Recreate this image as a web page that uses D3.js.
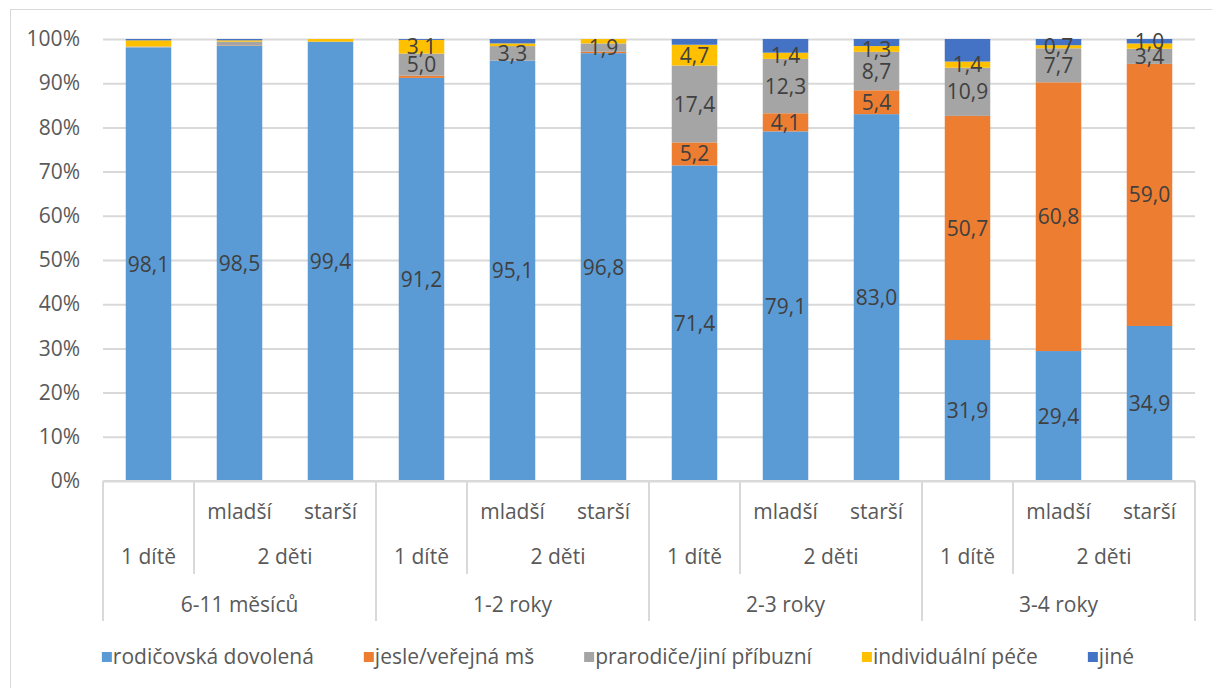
<!DOCTYPE html>
<html><head><meta charset="utf-8">
<script src="https://cdn.jsdelivr.net/npm/d3@7/dist/d3.min.js"></script>
<style>
html,body{margin:0;padding:0;background:#fff;}
svg{display:block;font-family:"Open Sans",sans-serif;}
</style></head>
<body><svg id="chart" width="1212" height="688"></svg>
<script>
// ---- data ----
const ageGroups = ["6-11 měsíců","1-2 roky","2-3 roky","3-4 roky"];
const childCounts = ["1 dítě","2 děti"];
const childOrder = ["", "mladší", "starší"];
const seriesNames = ["rodičovská dovolená","jesle/veřejná mš","prarodiče/jiní příbuzní","individuální péče","jiné"];
const rodicovska   = [98.1,98.5,99.4,91.2,95.1,96.8,71.4,79.1,83.0,31.9,29.4,34.9];
const jesle        = [0,0.1,0,0.5,0,0.3,5.2,4.1,5.4,50.7,60.8,59.0];
const prarodice    = [0.2,0.8,0,5.0,3.3,1.9,17.4,12.3,8.7,10.9,7.7,3.4];
const individualni = [1.4,0.3,0.6,3.1,0.6,1.0,4.7,1.4,1.3,1.4,0.7,1.2];
const jine         = [0.3,0.3,0,0.2,1.0,0,1.3,3.1,1.6,5.1,1.4,1.0];
// which bars show a data label, per series
const labelsShown = [
  [0,1,2,3,4,5,6,7,8,9,10,11],
  [6,7,8,9,10,11],
  [3,4,5,6,7,8,9,10,11],
  [3,6,7,8,9,10],
  [11]
];
const colors = ["#5B9BD5","#ED7D31","#A5A5A5","#FFC000","#4472C4"];
const yTicks = [0,0.1,0.2,0.3,0.4,0.5,0.6,0.7,0.8,0.9,1.0];

// ---- build ----
const FS = "21px";
const seriesVals = [rodicovska, jesle, prarodice, individualni, jine];
const bars = d3.range(12).map(i => {
  const o = {i};
  seriesNames.forEach((n,k)=> o[n] = seriesVals[k][i]);
  return o;
});
const stack = d3.stack().keys(seriesNames).offset(d3.stackOffsetExpand);
const stacked = stack(bars);

const svg = d3.select("#chart");
const L = 103, R = 1195, T = 39, B = 481;
const slot = d3.scaleBand().domain(d3.range(12)).range([L,R]).padding(0);
const y = d3.scaleLinear().domain([0,1]).range([B,T]);

// chart border
svg.append("rect").attr("x",10.5).attr("y",9.5).attr("width",1240).attr("height",700)
  .attr("fill","none").attr("stroke","#D9D9D9").attr("stroke-width",1);

// gridlines + y axis
const yAxis = d3.axisLeft(y).tickValues(yTicks).tickFormat(d3.format(".0%")).tickSize(-(R-L)).tickPadding(23);
const gy = svg.append("g").attr("transform",`translate(${L},0)`).call(yAxis);
gy.select(".domain").remove();
gy.selectAll(".tick line").attr("stroke","#D9D9D9").attr("stroke-width",2);
gy.selectAll(".tick text").attr("fill","#595959").style("font-size",FS).style("font-family","Open Sans");

// bars
const bw = slot.bandwidth()*0.5;
svg.append("g").selectAll("g").data(stacked).join("g")
  .attr("fill",(d,k)=>colors[k])
  .selectAll("rect").data(d=>d).join("rect")
  .attr("x",(d,i)=>slot(i)+slot.bandwidth()*0.25)
  .attr("width",bw)
  .attr("y",d=>y(d[1]))
  .attr("height",d=>Math.max(0,y(d[0])-y(d[1])));

// data labels
const fmt = v => d3.format(".1f")(v).replace(".",",");
const lg = svg.append("g");
stacked.forEach((s,k)=>{
  labelsShown[k].forEach(i=>{
    const d = s[i];
    lg.append("text")
      .attr("x",slot(i)+slot.bandwidth()/2)
      .attr("y",(y(d[0])+y(d[1]))/2)
      .attr("dy","0.36em")
      .attr("text-anchor","middle")
      .attr("fill","#404040")
      .style("font-size",FS)
      .text(fmt(seriesVals[k][i]));
  });
});

// x axis line
svg.append("line").attr("x1",L).attr("x2",R).attr("y1",B).attr("y2",B)
  .attr("stroke","#D9D9D9").attr("stroke-width",2);

// multi-level category axis
const ax = svg.append("g").attr("fill","#595959").style("font-size",FS);
const edge = i => i>=12 ? R : slot(i);
[0,3,6,9,12].forEach(i=>{
  svg.append("line").attr("x1",edge(i)).attr("x2",edge(i)).attr("y1",B).attr("y2",621)
    .attr("stroke","#D9D9D9").attr("stroke-width",2);
});
[1,4,7,10].forEach(i=>{
  svg.append("line").attr("x1",edge(i)).attr("x2",edge(i)).attr("y1",B).attr("y2",574)
    .attr("stroke","#D9D9D9").attr("stroke-width",2);
});
d3.range(12).forEach(i=>{
  const t = childOrder[i%3];
  if(t) ax.append("text").attr("x",slot(i)+slot.bandwidth()/2).attr("y",519)
    .attr("text-anchor","middle").text(t);
});
ageGroups.forEach((g,gi)=>{
  const s = gi*3;
  ax.append("text").attr("x",slot(s)+slot.bandwidth()/2).attr("y",564)
    .attr("text-anchor","middle").text(childCounts[0]);
  ax.append("text").attr("x",(edge(s+1)+edge(s+3))/2).attr("y",564)
    .attr("text-anchor","middle").text(childCounts[1]);
  ax.append("text").attr("x",(edge(s)+edge(s+3))/2).attr("y",612)
    .attr("text-anchor","middle").text(g);
});

// legend
const leg = svg.append("g").style("font-size",FS);
const GAP = 50;
let xcur = 0;
seriesNames.forEach((n,k)=>{
  const g = leg.append("g").attr("transform",`translate(${xcur},0)`);
  g.append("rect").attr("x",0).attr("y",-12).attr("width",10).attr("height",10).attr("fill",colors[k]);
  const t = g.append("text").attr("x",11).attr("y",0).attr("fill","#595959").text(n);
  const w = t.node().getComputedTextLength();
  xcur += 11 + w + GAP;
});
const totalW = xcur - GAP;
leg.attr("transform",`translate(${618 - totalW/2},664)`);
</script>
</body></html>
